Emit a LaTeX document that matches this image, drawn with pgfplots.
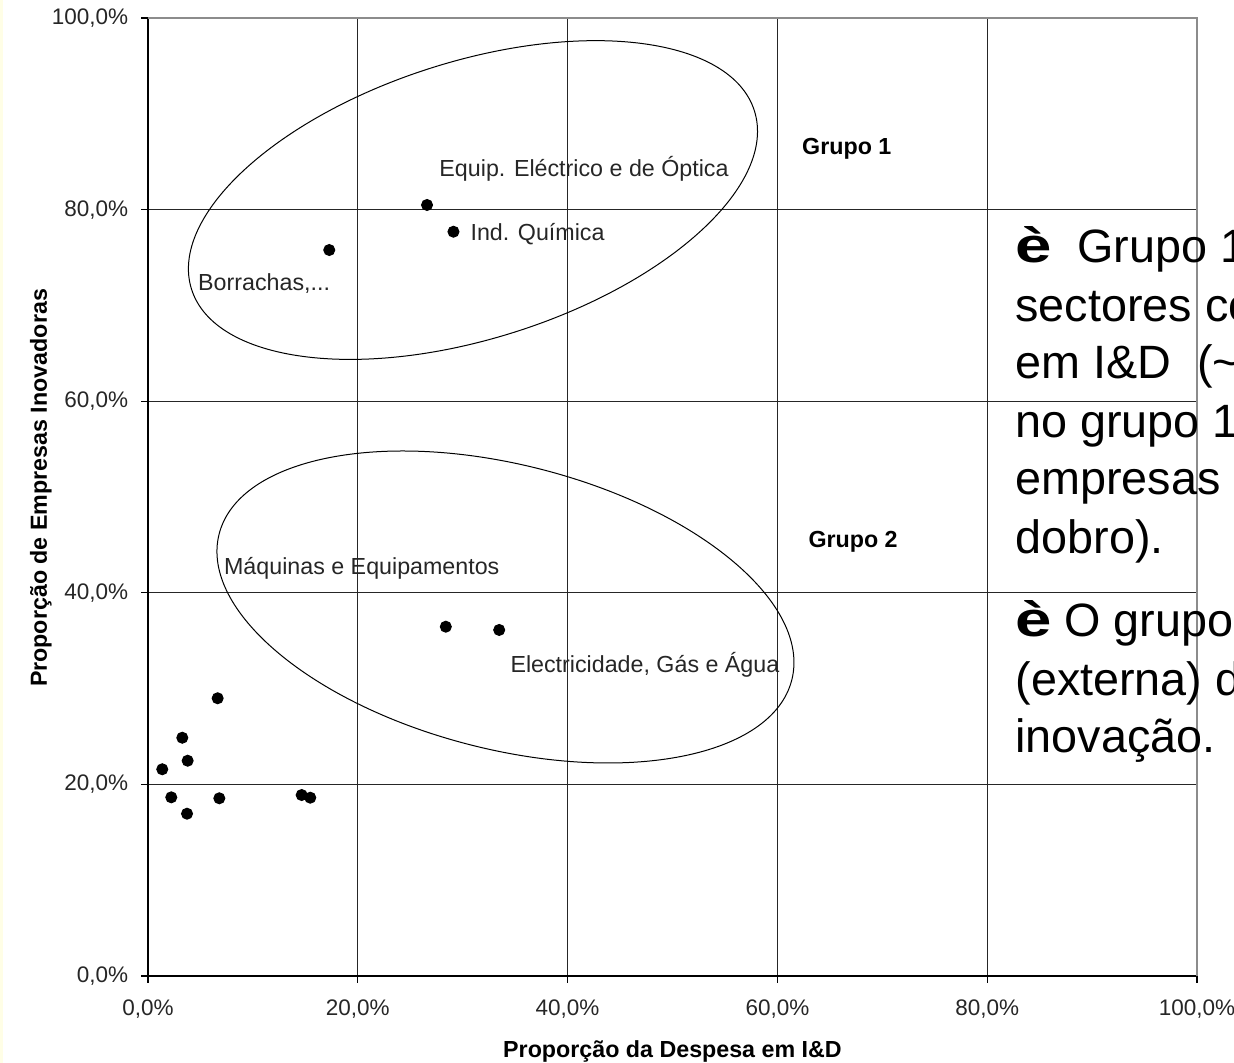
\documentclass[border=0pt]{standalone}
\usepackage{fontspec}
\setmainfont{Liberation Sans}
\usepackage{pgfplots}
\pgfplotsset{compat=1.18}

\begin{document}
\begin{tikzpicture}[
  lab/.style={anchor=base west, inner sep=0pt, font=\fontsize{9.3}{11}\selectfont, text=black!85},
  grp/.style={anchor=base west, inner sep=0pt, font=\bfseries\fontsize{9.3}{11}\selectfont},
  big/.style={anchor=base west, inner sep=0pt, font=\fontsize{18.7}{22}\selectfont},
]
\useasboundingbox (-59.2pt,-34.8pt) rectangle (434.4pt,390.4pt);
\clip (-59.2pt,-34.8pt) rectangle (434.4pt,390.4pt);
\fill[yellow!10] (-59.2pt,-34.8pt) rectangle (-58pt,390.4pt);
\begin{axis}[
  anchor=south west, at={(0,0)},
  scale only axis, width=419.6pt, height=383.2pt,
  xmin=0, xmax=100, ymin=0, ymax=100,
  axis lines=left,
  axis line style={-, black, line width=0.6pt},
  xtick={0,20,...,100}, ytick={0,20,...,100},
  xticklabels={{0,0\%},{20,0\%},{40,0\%},{60,0\%},{80,0\%},{100,0\%}},
  yticklabels={{0,0\%},{20,0\%},{40,0\%},{60,0\%},{80,0\%},{100,0\%}},
  tick align=outside, major tick length=2.7pt,
  tick style={black, line width=0.5pt},
  grid=major, major grid style={black!85, line width=0.5pt},
  ticklabel style={font=\fontsize{9}{10}\selectfont, text=black!85, inner sep=0pt},
  yticklabel style={xshift=-5pt},
  xticklabel style={yshift=-6.6pt},
  xlabel={Proporção da Despesa em I\&D},
  ylabel={Proporção de Empresas Inovadoras},
  label style={font=\bfseries\fontsize{9.3}{11}\selectfont},
  xlabel style={at={(axis description cs:0.5,-0.0856)}, anchor=base},
  ylabel style={at={(axis description cs:-0.0963,0.5094)}, anchor=base},
  clip=false,
]
\draw[black!45, line width=0.6pt] (axis cs:0,100) -- (axis cs:100,100) -- (axis cs:100,0);

\addplot[only marks, mark=*, mark size=2.2pt, black] coordinates {
  (26.60,80.48) (29.12,77.69) (17.28,75.78)
  (28.39,36.46) (33.48,36.12)
  (6.64,28.99) (3.27,24.87) (3.78,22.47) (1.36,21.58)
  (2.22,18.65) (3.72,16.94) (6.80,18.55) (14.65,18.89) (15.47,18.61)
};

\coordinate (e1) at (axis cs:30.98,81.0);
\coordinate (e2) at (axis cs:34.08,38.52);

\node[lab] at (axis cs:27.74,83.5) {Equip. Eléctrico e de Óptica};
\node[lab] at (axis cs:30.70,76.75) {Ind. Química};
\node[lab] at (axis cs:4.74,71.6) {Borrachas,...};
\node[lab] at (axis cs:7.21,41.86) {Máquinas e Equipamentos};
\node[lab] at (axis cs:34.51,31.63) {Electricidade, Gás e Água};
\node[grp] at (axis cs:62.32,85.70) {Grupo 1};
\node[grp] at (axis cs:62.92,44.68) {Grupo 2};

\node[big] at (axis cs:82.65,74.43) {\makebox[24.8pt][l]{\scalebox{1.4}[1.05]{\textbf{è}}}Grupo 1};
\node[big] at (axis cs:82.65,68.37) {sectores com};
\node[big] at (axis cs:82.65,62.32) {em I\&D\ \ (\textasciitilde};
\node[big] at (axis cs:82.65,56.26) {no grupo 1};
\node[big] at (axis cs:82.65,50.21) {empresas};
\node[big] at (axis cs:82.65,44.15) {dobro).};
\node[big] at (axis cs:82.65,35.39) {\makebox[19.5pt][l]{\scalebox{1.4}[1.05]{\textbf{è}}}O grupo};
\node[big] at (axis cs:82.65,29.33) {(externa) de};
\node[big] at (axis cs:82.65,23.28) {inovação.};
\end{axis}
\draw[black, line width=0.4pt, rotate around={17.6:(e1)}] (e1) ellipse (118.1pt and 55.4pt);
\draw[black, line width=0.4pt, rotate around={-14.3:(e2)}] (e2) ellipse (118.2pt and 56.9pt);
\end{tikzpicture}
\end{document}
